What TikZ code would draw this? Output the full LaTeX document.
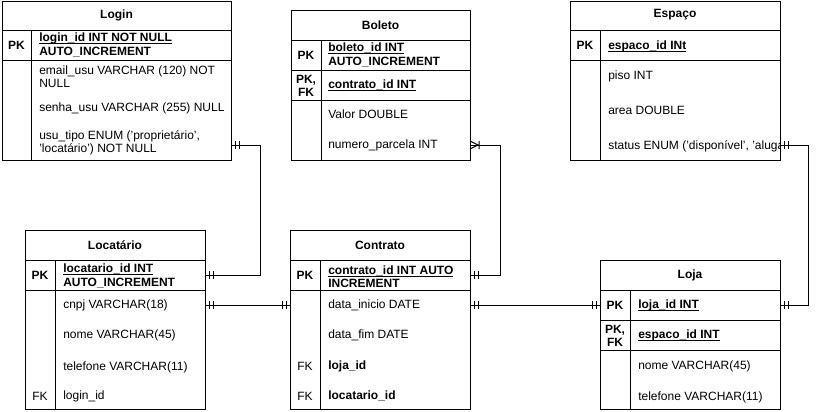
\documentclass[tikz,border=0pt]{standalone}
\usepackage{fontspec}
\setmainfont{Liberation Sans}
\newcommand\keyline[1]{\setbox0\hbox{#1}\rlap{\vrule height -1.1pt depth 1.85pt width \wd0}\box0}
\tikzset{
  entity/.style = {draw, line width=0.75pt},
  rel/.style    = {line width=0.75pt},
  ttl/.style    = {font=\fontsize{9}{10}\selectfont\bfseries, inner sep=0},
  key/.style    = {font=\fontsize{9}{10}\selectfont\bfseries, align=center, inner sep=0},
  fkey/.style   = {font=\fontsize{9}{10}\selectfont, inner sep=0},
  fld/.style    = {font=\fontsize{9}{10}\selectfont, anchor=west, align=left, inner sep=0},
  pkfld/.style  = {fld, font=\fontsize{9}{10}\selectfont\bfseries},
  pics/mandone/.style = {code={\draw[rel] (4,-4) -- (4,4) (8,-4) -- (8,4);}},
  pics/onemany/.style = {code={\draw[rel] (0,-4) -- (8,0) -- (0,4) (9,-4) -- (9,4);}}
}

\begin{document}
\begin{tikzpicture}[x=0.75pt,y=-0.75pt]
  \useasboundingbox (0,0) rectangle (820,411);
  %
  % Login
  \draw[entity] (2,1) rectangle (231,160);
  \draw[entity] (2,30) -- (231,30) (2,60) -- (231,60) (31,30) -- (31,160);
  \node[ttl] (login) at (116.5,15) {Login};
  \node[key] (login-pk) at (16.5,45) {PK};
  \node[pkfld] (login-id) at (39,45) {\keyline{login\_id INT NOT NULL}\\AUTO\_INCREMENT};
  \node[fld] (login-email) at (39,77) {email\_usu VARCHAR (120) NOT\\NULL};
  \node[fld] (login-senha) at (39,108) {senha\_usu VARCHAR (255) NULL};
  \node[fld] (login-tipo) at (39,143) {usu\_tipo ENUM ('proprietário',\\'locatário') NOT NULL};
  \coordinate (login-e) at (231,145);
  %
  % Boleto
  \draw[entity] (291,10) rectangle (470,160);
  \draw[entity] (291,40) -- (470,40) (291,70) -- (470,70) (291,100) -- (470,100) (321,40) -- (321,160);
  \node[ttl] (boleto) at (380.5,25) {Boleto};
  \node[key] (boleto-pk) at (306,55) {PK};
  \node[pkfld] (boleto-id) at (328,55) {\keyline{boleto\_id INT}\\AUTO\_INCREMENT};
  \node[key] (boleto-pkfk) at (306,86) {PK,\\FK};
  \node[pkfld] (boleto-contrato) at (328,85) {\keyline{contrato\_id INT}};
  \node[fld] (boleto-valor) at (328,114) {Valor DOUBLE};
  \node[fld] (boleto-parcela) at (328,145) {numero\_parcela INT};
  \coordinate (boleto-e) at (470,145);
  %
  % Espaco
  \draw[entity] (570,1) rectangle (780,160);
  \draw[entity] (570,30) -- (780,30) (570,60) -- (780,60) (600,30) -- (600,160);
  \node[ttl] (espaco) at (675,15) {Espaço};
  \node[key] (espaco-pk) at (585,45) {PK};
  \node[pkfld] (espaco-id) at (608,46) {\keyline{espaco\_id INt}};
  \node[fld] (espaco-piso) at (608,76) {piso INT};
  \node[fld] (espaco-area) at (608,110) {area DOUBLE};
  \begin{scope}
    \clip (600,130) rectangle (780,160);
    \node[fld] (espaco-status) at (608,146) {status ENUM ('disponível', 'aluga};
  \end{scope}
  \coordinate (espaco-e) at (780,145);
  %
  % Locatario
  \draw[entity] (25,230) rectangle (205,409);
  \draw[entity] (25,260) -- (205,260) (25,290) -- (205,290) (55,260) -- (55,409);
  \node[ttl] (locatario) at (115,245) {Locatário};
  \node[key] (locatario-pk) at (40,275) {PK};
  \node[pkfld] (locatario-id) at (63,276) {\keyline{locatario\_id INT}\\AUTO\_INCREMENT};
  \node[fld] (locatario-cnpj) at (63,305) {cnpj VARCHAR(18)};
  \node[fld] (locatario-nome) at (63,335) {nome VARCHAR(45)};
  \node[fld] (locatario-fone) at (63,367) {telefone VARCHAR(11)};
  \node[fkey] (locatario-fk) at (40,396) {FK};
  \node[fld] (locatario-login) at (63,396) {login\_id};
  \coordinate (locatario-e1) at (205,275);
  \coordinate (locatario-e2) at (205,305);
  %
  % Contrato
  \draw[entity] (290,230) rectangle (470,409);
  \draw[entity] (290,260) -- (470,260) (290,290) -- (470,290) (320,260) -- (320,409);
  \node[ttl] (contrato) at (380,245) {Contrato};
  \node[key] (contrato-pk) at (305,275) {PK};
  \node[pkfld] (contrato-id) at (328,277) {\keyline{contrato\_id INT AUTO}\\INCREMENT};
  \node[fld] (contrato-inicio) at (328,305) {data\_inicio DATE};
  \node[fld] (contrato-fim) at (328,335) {data\_fim DATE};
  \node[fkey] (contrato-fk1) at (305,366) {FK};
  \node[pkfld] (contrato-loja) at (328,366) {loja\_id};
  \node[fkey] (contrato-fk2) at (305,396) {FK};
  \node[pkfld] (contrato-locatario) at (328,396) {locatario\_id};
  \coordinate (contrato-w) at (290,305);
  \coordinate (contrato-e1) at (470,275);
  \coordinate (contrato-e2) at (470,305);
  %
  % Loja
  \draw[entity] (600,260) rectangle (780,409);
  \draw[entity] (600,290) -- (780,290) (600,320) -- (780,320) (600,350) -- (780,350) (630,290) -- (630,409);
  \node[ttl] (loja) at (690,275) {Loja};
  \node[key] (loja-pk) at (615,305) {PK};
  \node[pkfld] (loja-id) at (638,305) {\keyline{loja\_id INT}};
  \node[key] (loja-pkfk) at (615,336) {PK,\\FK};
  \node[pkfld] (loja-espaco) at (638,335) {\keyline{espaco\_id INT}};
  \node[fld] (loja-nome) at (638,366) {nome VARCHAR(45)};
  \node[fld] (loja-fone) at (638,397) {telefone VARCHAR(11)};
  \coordinate (loja-w) at (600,305);
  \coordinate (loja-e) at (780,305);
  %
  % relationships
  \draw[rel] (login-e) -- ++(29,0) |- (locatario-e1);
  \pic at (login-e) {mandone};
  \pic at (locatario-e1) {mandone};
  %
  \draw[rel] (locatario-e2) -- (contrato-w);
  \pic at (locatario-e2) {mandone};
  \pic[rotate=180] at (contrato-w) {mandone};
  %
  \draw[rel] (contrato-e1) -- ++(30,0) |- (boleto-e);
  \pic at (contrato-e1) {mandone};
  \pic at (boleto-e) {onemany};
  %
  \draw[rel] (contrato-e2) -- (loja-w);
  \pic at (contrato-e2) {mandone};
  \pic[rotate=180] at (loja-w) {mandone};
  %
  \draw[rel] (espaco-e) -- ++(28,0) |- (loja-e);
  \pic at (espaco-e) {mandone};
  \pic at (loja-e) {mandone};
\end{tikzpicture}
\end{document}
